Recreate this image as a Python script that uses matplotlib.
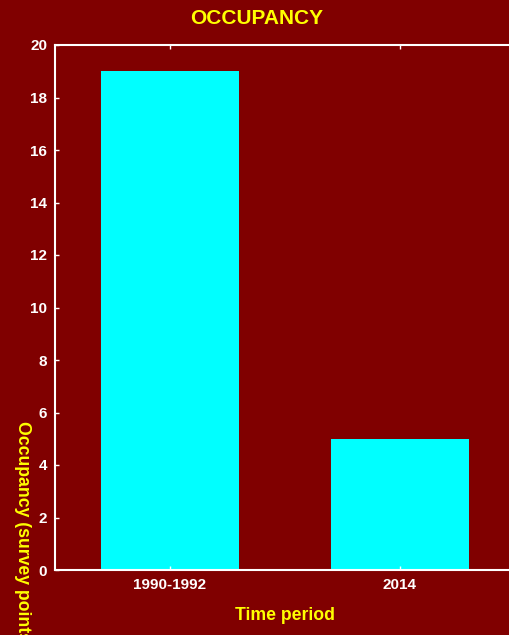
import matplotlib.pyplot as plt

periods = ["1990-1992", "2014"]
occupancy = [19, 5]

plt.rcParams["font.family"] = ["Liberation Sans", "DejaVu Sans"]
plt.rcParams["font.weight"] = "bold"

bg = "#800000"
fig = plt.figure(figsize=(5.1, 6.35), dpi=100, facecolor=bg)
ax = fig.add_axes([55 / 510, 65 / 635, 460 / 510, 525 / 635])
ax.set_facecolor(bg)

ax.bar(range(len(periods)), occupancy, width=0.6, color="#00ffff")
ax.set_xlim(-0.5, 1.5)
ax.set_ylim(0, 20)
ax.set_yticks(range(0, 21, 2))
ax.set_xticks(range(len(periods)))
ax.set_xticklabels(periods)

for s in ax.spines.values():
    s.set_color("white")
    s.set_linewidth(1.5)
ax.tick_params(direction="in", colors="white", length=3, width=1,
               labelsize=11, top=True, right=True)
ax.tick_params(axis="x", pad=6)
ax.tick_params(axis="y", pad=5.5)
for lab in ax.get_xticklabels() + ax.get_yticklabels():
    lab.set_fontweight("bold")

fig.text(0.5035, 1 - 18 / 635, "OCCUPANCY", color="yellow", fontsize=15,
         fontweight="bold", ha="center", va="center")
fig.text(285 / 510, 1 - 615 / 635, "Time period", color="yellow", fontsize=12.7,
         fontweight="bold", ha="center", va="center")
fig.text(22 / 510, 1 - 421 / 635, "Occupancy (survey points)", color="yellow",
         fontsize=12.7, fontweight="bold", ha="center", va="top", rotation=270)

fig.savefig("out.png", dpi=100, facecolor=bg)
